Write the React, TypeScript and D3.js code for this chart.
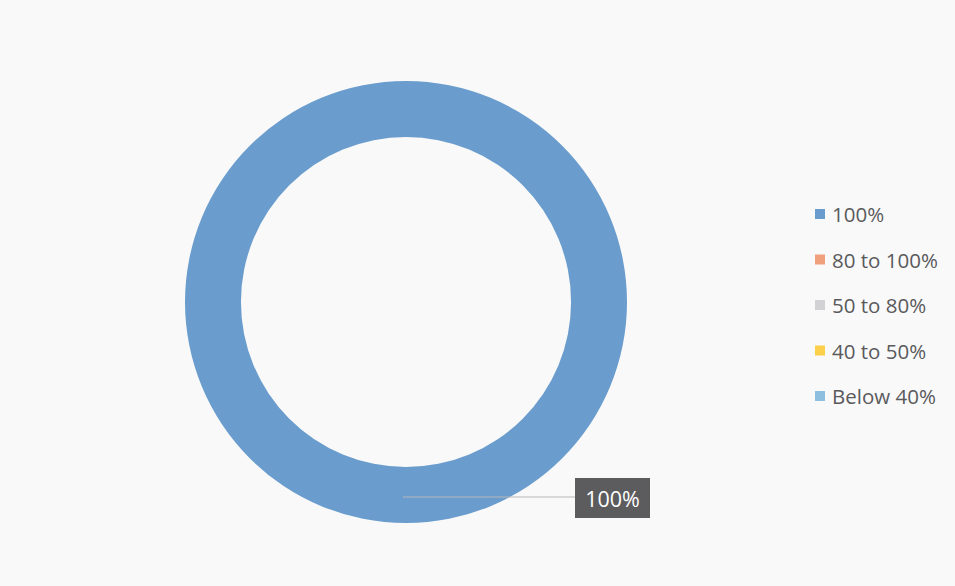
import React from "react";
import * as d3 from "d3";

const categories = ["100%", "80 to 100%", "50 to 80%", "40 to 50%", "Below 40%"];
const values = [100, 0, 0, 0, 0];
const colors = ["#6a9dcd", "#f0a07c", "#d2d2d4", "#fcd04a", "#8fbfdf"];
const dataLabel = "100%";

const W = 955;
const H = 586;

export default function App() {
  const cx = 406;
  const cy = 302;
  const outerR = 221;
  const innerR = 165;

  const pie = d3.pie<number>().sort(null).value((d) => d)(values);
  const arc = d3.arc<d3.PieArcDatum<number>>().innerRadius(innerR).outerRadius(outerR);

  const legendX = 815;
  const legendY = d3.scalePoint<string>().domain(categories).range([214, 396]);

  const lx0 = cx - 3;
  const ly = 497;

  return (
    <svg
      width={W}
      height={H}
      style={{ position: "absolute", left: 0, top: 0, display: "block" }}
      fontFamily="'Open Sans', Lato, sans-serif"
    >
      <rect x={0} y={0} width={W} height={H} fill="#f9f9f9" />
      <g transform={`translate(${cx},${cy})`}>
        {pie.map((p, i) =>
          p.endAngle - p.startAngle > 0 ? (
            <path key={i} d={arc(p) || ""} fill={colors[i]} />
          ) : null
        )}
      </g>
      <line x1={lx0} y1={ly} x2={575} y2={ly} stroke="#b8b8bc" strokeWidth={1.2} />
      <rect x={575} y={478} width={75} height={40} fill="#5c5c5e" />
      <text
        x={612.5}
        y={498}
        textAnchor="middle"
        dominantBaseline="central"
        fill="#ffffff"
        fontSize={21.5}
      >
        {dataLabel}
      </text>
      {categories.map((c, i) => {
        const y = legendY(c) as number;
        return (
          <g key={c}>
            <rect x={legendX} y={y - 5} width={10} height={10} fill={colors[i]} />
            <text
              x={legendX + 17}
              y={y}
              dominantBaseline="central"
              fill="#5a5a5c"
              fontSize={20.5}
            >
              {c}
            </text>
          </g>
        );
      })}
    </svg>
  );
}
